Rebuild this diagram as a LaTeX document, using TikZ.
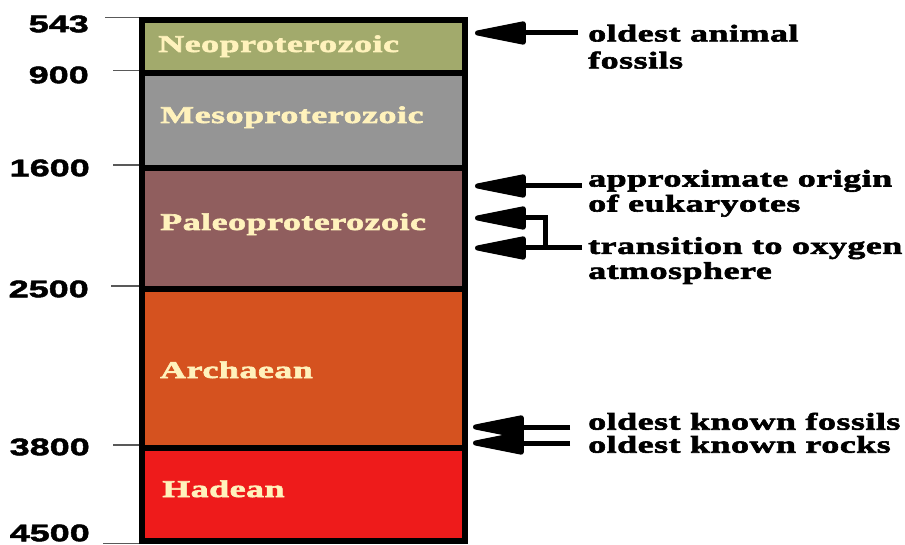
\documentclass[tikz,border=0pt]{standalone}
\usepackage{fontspec}
\usepackage{tikz}
\usetikzlibrary{arrows.meta,positioning,calc}
\newfontfamily\erafont[FakeStretch=1.5,LetterSpace=2,BoldFeatures={FakeBold=2.5}]{Liberation Serif}
\newfontfamily\agefont[FakeStretch=1.5,BoldFeatures={FakeBold=2}]{Liberation Sans}
\definecolor{neocol}{HTML}{A2AA6C}
\definecolor{mesocol}{HTML}{959595}
\definecolor{paleocol}{HTML}{905E5E}
\definecolor{archcol}{HTML}{D5521F}
\definecolor{hadcol}{HTML}{EE1B1B}
\definecolor{eratext}{HTML}{FFF2BC}
\begin{document}
\begin{tikzpicture}[x=1pt, y=-1pt,
    era/.style={draw=black, line width=6pt, minimum width=323pt, inner sep=0pt},
    eralabel/.style={anchor=base west, inner sep=0pt, text=eratext, font=\erafont\bfseries\fontsize{24}{27}\selectfont},
    age/.style={anchor=east, inner sep=0pt, font=\agefont\bfseries\fontsize{24}{27}\selectfont},
    tick/.style={draw=black!65, line width=1.6pt},
    note/.style={anchor=north west, align=left, inner sep=0pt, font=\erafont\bfseries\fontsize{24}{25}\selectfont},
    pointer/.style={-{Triangle[length=62pt,width=23pt,round]}, line width=5pt}]
        \useasboundingbox (0,0) rectangle (905,545);
        % the column of eras
        \node[era, fill=neocol, minimum height=53pt] (neo) at (303,47) {};
        \node[era, fill=mesocol, minimum height=94.5pt] (meso) at (303,120.75) {};
        \node[era, fill=paleocol, minimum height=121pt] (paleo) at (303,228.5) {};
        \node[era, fill=archcol, minimum height=159pt] (arch) at (303,368.5) {};
        \node[era, fill=hadcol, minimum height=92.5pt] (hadean) at (303,494.25) {};
        \node[eralabel] (neolab) at (158,52) {Neoproterozoic};
        \node[eralabel] (mesolab) at (160,123) {Mesoproterozoic};
        \node[eralabel] (paleolab) at (160,230) {Paleoproterozoic};
        \node[eralabel] (archlab) at (160,378) {Archaean};
        \node[eralabel] (hadlab) at (162,497) {Hadean};
        % ages
        \node[age] (a543) at (89,24) {543};
        \node[age] (a900) at (89,75) {900};
        \node[age] (a1600) at (90,168) {1600};
        \node[age] (a2500) at (89,289) {2500};
        \node[age] (a3800) at (90,447) {3800};
        \node[age] (a4500) at (90,533) {4500};
        \draw[tick] (neo.north west) -- ++(-34,0);
        \draw[tick] (meso.north west) -- ++(-26,0);
        \draw[tick] (paleo.north west) -- ++(-26,0);
        \draw[tick] (arch.north west) -- ++(-28,0);
        \draw[tick] (hadean.north west) -- ++(-26,0);
        \draw[tick] (hadean.south west) -- ++(-36,0);
        % events
        \node[note, font=\erafont\bfseries\fontsize{24}{27}\selectfont] (animal) at (588,24.6) {oldest animal\\fossils};
        \node[note] (eukaryotes) at (588,169.7) {approximate origin\\of eukaryotes};
        \node[note] (oxygen) at (588,237) {transition to oxygen\\atmosphere};
        \node[note, font=\erafont\bfseries\fontsize{24}{23}\selectfont] (known) at (588,412.6) {oldest known fossils\\oldest known rocks};
        \coordinate (tipA) at (475,33);
        \coordinate (tipE) at (475,186);
        \coordinate (tipO1) at (475,218);
        \coordinate (tipO2) at (475,248);
        \coordinate (fork) at (545,248);
        \coordinate (tipF) at (473,427);
        \coordinate (tipR) at (473,443);
        \draw[pointer] ([xshift=-10pt]animal.west |- tipA) -- (tipA);
        \draw[pointer] ([xshift=-6pt]eukaryotes.west |- tipE) -- (tipE);
        \draw[pointer] ([xshift=-6pt]oxygen.west |- tipO2) -- (tipO2);
        \draw[pointer] (fork) |- (tipO1);
        \draw[pointer] ([xshift=-18pt]known.west |- tipF) -- (tipF);
        \draw[pointer] ([xshift=-18pt]known.west |- tipR) -- (tipR);
    \end{tikzpicture}
\end{document}
